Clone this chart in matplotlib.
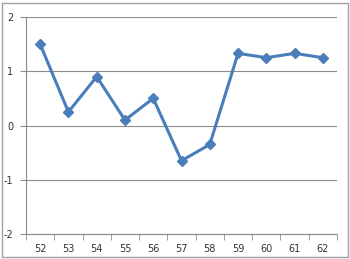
import matplotlib.pyplot as plt
import numpy as np
from matplotlib.patches import Rectangle

years = ["52", "53", "54", "55", "56", "57", "58", "59", "60", "61", "62"]
values = [1.5, 0.25, 0.9, 0.1, 0.5, -0.65, -0.35, 1.33, 1.25, 1.33, 1.25]

fig = plt.figure(figsize=(3.5, 2.59), dpi=100)
ax = fig.add_axes([26 / 350, 1 - 234 / 259, 311 / 350, 217 / 259])

x = np.arange(len(years))
ax.plot(x, values, color="#4A7EBB", linewidth=2.2, marker="D", markersize=5,
        markerfacecolor="#4A7EBB", markeredgecolor="#4A7EBB", zorder=3)

ax.set_xlim(-0.5, len(years) - 0.5)
ax.set_ylim(-2, 2)
ax.set_yticks([-2, -1, 0, 1, 2])
ax.set_yticklabels(["-2", "-1", "0", "1", "2"])
ax.set_xticks(x)
ax.set_xticklabels(years)
ax.set_xticks(np.arange(-0.5, len(years), 1.0), minor=True)

ax.grid(axis="y", color="#8c8c8c", linewidth=0.8)
ax.set_axisbelow(True)
for side in ["top", "right"]:
    ax.spines[side].set_visible(False)
for side in ["left", "bottom"]:
    ax.spines[side].set_color("#8c8c8c")
    ax.spines[side].set_linewidth(0.8)

ax.tick_params(axis="x", which="major", length=0, pad=7, labelsize=7, colors="#333333")
ax.tick_params(axis="x", which="minor", length=4, color="#8c8c8c", direction="out")
ax.tick_params(axis="y", length=4, color="#8c8c8c", pad=5, labelsize=7, labelcolor="#333333")

# outer chart border
fig.patches.append(Rectangle((2 / 350, 2 / 259), 346 / 350, 254 / 259, transform=fig.transFigure,
                             fill=False, edgecolor="#a0a0a0", linewidth=1.0))

fig.savefig("out.png", dpi=100)
